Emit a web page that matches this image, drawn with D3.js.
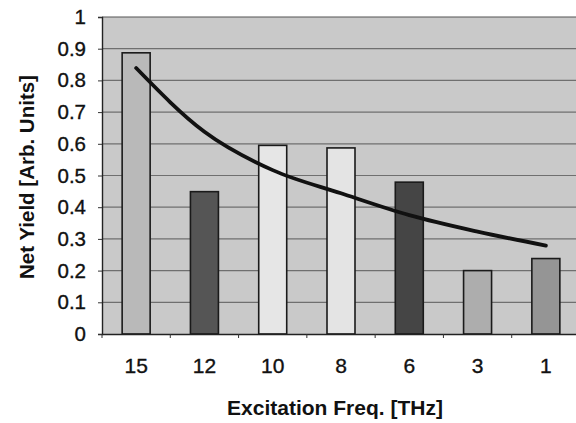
<!DOCTYPE html>
<html>
<head>
<meta charset="utf-8">
<script src="https://cdn.jsdelivr.net/npm/d3@7"></script>
<style>
  body { margin: 0; background: #fff; }
  text { font-family: "Liberation Sans", Arial, sans-serif; }
</style>
</head>
<body>
<svg id="chart" width="576" height="423"></svg>
<script>
// data
const freqs = ["15", "12", "10", "8", "6", "3", "1"];
const yields = [0.887, 0.449, 0.595, 0.587, 0.479, 0.2, 0.238];
const barFills = ["#b9b9b9", "#555555", "#e6e6e6", "#e4e4e4", "#454545", "#adadad", "#959595"];
const trend = [0.839, 0.638, 0.517, 0.444, 0.375, 0.323, 0.279];
const yTicks = [0, 0.1, 0.2, 0.3, 0.4, 0.5, 0.6, 0.7, 0.8, 0.9, 1];

const MARGIN = { top: 17, left: 102 };
const boundsWidth = 478;
const boundsHeight = 317;

const svg = d3.select("#chart");
const g = svg.append("g").attr("transform", `translate(${MARGIN.left},${MARGIN.top})`);

const xScale = d3.scaleBand().domain(freqs).range([0, boundsWidth]).paddingInner(0).paddingOuter(0);
const yScale = d3.scaleLinear().domain([0, 1]).range([boundsHeight, 0]);

// plot background
g.append("rect")
  .attr("width", boundsWidth)
  .attr("height", boundsHeight)
  .attr("fill", "#c9c9c9");

// gridlines
g.selectAll(".grid")
  .data(yTicks.slice(1, -1))
  .join("line")
  .attr("x1", 0)
  .attr("x2", boundsWidth)
  .attr("y1", (d) => yScale(d))
  .attr("y2", (d) => yScale(d))
  .attr("stroke", "#6f6f6f")
  .attr("stroke-width", 1.2);

// top edge
g.append("line")
  .attr("x1", 0).attr("x2", boundsWidth)
  .attr("y1", 0).attr("y2", 0)
  .attr("stroke", "#555").attr("stroke-width", 1.2);

// bars
const barW = xScale.bandwidth() * 0.41;
g.selectAll(".bar")
  .data(yields)
  .join("rect")
  .attr("x", (d, i) => xScale(freqs[i]) + xScale.bandwidth() / 2 - barW / 2)
  .attr("y", (d) => yScale(d))
  .attr("width", barW)
  .attr("height", (d) => boundsHeight - yScale(d))
  .attr("fill", (d, i) => barFills[i])
  .attr("stroke", "#1a1a1a")
  .attr("stroke-width", 1.6);

// trend line
const line = d3.line()
  .x((d, i) => xScale(freqs[i]) + xScale.bandwidth() / 2)
  .y((d) => yScale(d))
  .curve(d3.curveMonotoneX);

g.append("path")
  .attr("d", line(trend))
  .attr("fill", "none")
  .attr("stroke", "#111")
  .attr("stroke-width", 3.8)
  .attr("stroke-linecap", "round");

// y axis
const yAxis = g.append("g")
  .call(d3.axisLeft(yScale).tickValues(yTicks).tickFormat((d) => d3.format("~g")(d)).tickSize(4).tickPadding(12));
yAxis.select(".domain").attr("stroke", "#222").attr("stroke-width", 1.4);
yAxis.selectAll(".tick line").attr("stroke", "#333");
yAxis.selectAll("text")
  .style("font-size", "20.5px")
  .attr("fill", "#111")
  .attr("stroke", "#111")
  .attr("stroke-width", 0.35);

// x axis
const xAxis = g.append("g")
  .attr("transform", `translate(0,${boundsHeight})`)
  .call(d3.axisBottom(xScale).tickSize(0).tickPadding(24));
xAxis.select(".domain").attr("stroke", "#222").attr("stroke-width", 1.4);
xAxis.selectAll("text")
  .style("font-size", "21px")
  .attr("fill", "#111")
  .attr("stroke", "#111")
  .attr("stroke-width", 0.35);

// x ticks at band boundaries
g.selectAll(".xtick")
  .data(freqs)
  .join("line")
  .attr("x1", (d) => xScale(d))
  .attr("x2", (d) => xScale(d))
  .attr("y1", boundsHeight)
  .attr("y2", boundsHeight + 4)
  .attr("stroke", "#333");

// axis titles
svg.append("text")
  .text("Excitation Freq. [THz]")
  .attr("x", 335)
  .attr("y", 415)
  .attr("text-anchor", "middle")
  .style("font-size", "21px")
  .style("font-weight", "bold")
  .attr("fill", "#111");

svg.append("text")
  .text("Net Yield [Arb. Units]")
  .attr("transform", "rotate(-90)")
  .attr("x", -177)
  .attr("y", 34)
  .attr("text-anchor", "middle")
  .style("font-size", "20.5px")
  .style("font-weight", "bold")
  .attr("fill", "#111");
</script>
</body>
</html>
